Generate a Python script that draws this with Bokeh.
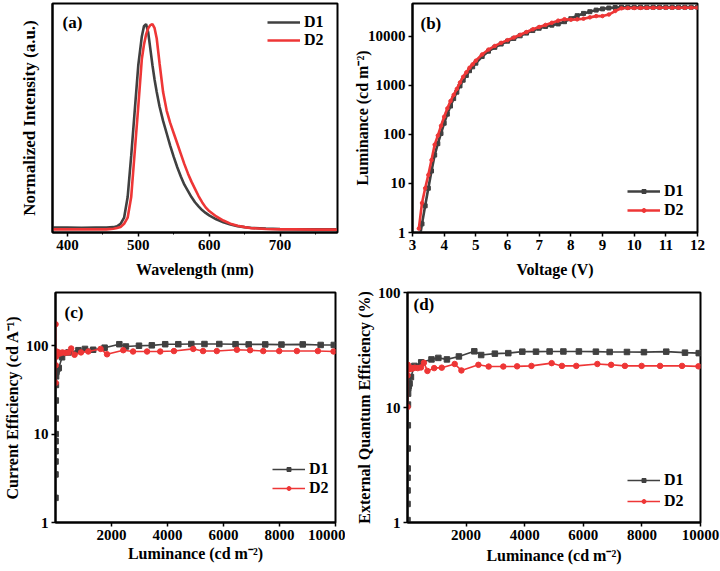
from bokeh.plotting import figure
from bokeh.models import (FixedTicker, Legend, LegendItem, Label, Range1d,
                          NumeralTickFormatter)
from bokeh.layouts import column, row
from bokeh.embed import file_html
from bokeh.resources import INLINE

FONT = "'Liberation Serif', 'Times New Roman', serif"
C1 = "#404040"
C2 = "#ee3636"

# ---------------- (a) EL spectra ----------------
wavelength = [380, 400, 420, 440, 455, 465, 470, 475, 480, 485, 490, 495, 500, 505,
              508, 511, 514, 517, 520, 523, 526, 530, 535, 540, 545, 550, 555, 560,
              565, 570, 575, 580, 585, 590, 595, 600, 610, 620, 630, 640, 650, 660,
              680, 700, 720, 750, 780]
el_d1 = [0.012, 0.012, 0.011, 0.012, 0.012, 0.014, 0.018, 0.03, 0.06, 0.16, 0.36, 0.58,
         0.80, 0.94, 0.99, 1.00, 0.96, 0.88, 0.80, 0.73, 0.67, 0.60, 0.53, 0.47, 0.41,
         0.355, 0.305, 0.26, 0.22, 0.19, 0.16, 0.135, 0.115, 0.097, 0.083, 0.071, 0.052,
         0.038, 0.027, 0.019, 0.014, 0.010, 0.007, 0.005, 0.004, 0.003, 0.003]
el_d2 = [0.003, 0.003, 0.003, 0.003, 0.003, 0.006, 0.010, 0.015, 0.03, 0.06, 0.16, 0.38,
         0.60, 0.83, 0.90, 0.95, 0.98, 0.995, 1.00, 0.98, 0.93, 0.81, 0.67, 0.58, 0.52,
         0.47, 0.42, 0.37, 0.32, 0.275, 0.235, 0.20, 0.165, 0.135, 0.11, 0.092, 0.066,
         0.046, 0.031, 0.021, 0.014, 0.009, 0.005, 0.003, 0.003, 0.002, 0.002]
wl_ticks = [400, 500, 600, 700]
wl_minor = [450, 550, 650, 750]

# ---------------- (b) L-V ----------------
voltage = [3.2, 3.3, 3.4, 3.5, 3.6, 3.7, 3.8, 3.9, 4.0, 4.1, 4.2, 4.3, 4.4, 4.5, 4.6,
           4.7, 4.8, 4.9, 5.0, 5.2, 5.4, 5.6, 5.8, 6.0, 6.2, 6.4, 6.6, 6.8, 7.0, 7.2,
           7.4, 7.6, 7.8, 8.0, 8.2, 8.4, 8.6, 8.8, 9.0, 9.2, 9.4, 9.6, 9.8, 10.0, 10.2,
           10.4, 10.6, 10.8, 11.0, 11.2, 11.4, 11.6, 11.8, 12.0]
lum_d1 = [0.6, 1.5, 3.5, 8, 18, 38, 65, 105, 170, 260, 380, 540, 730, 980, 1280, 1600,
          2000, 2400, 2850, 3900, 5000, 6000, 7000, 8000, 9100, 10300, 11700, 13200,
          14700, 16000, 17000, 18000, 20000, 23000, 26500, 29500, 32000, 34500, 36500,
          38000, 39000, 39500, 39500, 39500, 39500, 39500, 39500, 39500, 39500, 39500,
          39500, 39500, 39500, 39500]
lum_d2 = [1.2, 4.0, 8.0, 15, 30, 62, 95, 150, 230, 340, 480, 640, 850, 1150, 1500, 1850,
          2300, 2700, 3200, 4300, 5400, 6400, 7400, 8400, 9500, 10800, 12300, 14000,
          15600, 17200, 19000, 21000, 22500, 22000, 22300, 23000, 24500, 26000, 26000,
          28000, 33000, 37500, 38000, 38000, 38200, 38300, 38400, 38500, 38500, 38500,
          38600, 38600, 38600, 38600]
v_ticks = [3, 4, 5, 6, 7, 8, 9, 10, 11, 12]
lum_ticks = [1, 10, 100, 1000, 10000]

# ---------------- (c), (d) efficiencies ----------------
lum1 = [0.5, 1, 2, 3, 4, 6, 8, 11, 15, 20, 27, 36, 50, 70, 117, 234, 468, 819, 1053,
        1345, 1754, 2280, 2514, 2982, 3440, 3918, 4386, 4850, 5320, 5850, 6430, 6900,
        7490, 8070, 8830, 9470, 9940]
ce1 = [1.9, 3.5, 4.9, 6.4, 8.3, 10, 15, 24, 36, 45, 50, 52, 54, 55, 56, 74, 84, 89, 92,
       90, 95, 104, 98, 100, 101, 104, 104, 104.5, 104.5, 104.5, 104, 103.5, 103.5, 103,
       103.5, 102, 102]
eqe1 = [0.56, 1.05, 1.45, 1.9, 2.45, 2.95, 4.4, 7.0, 10.6, 13.2, 14.7, 15.3, 15.9, 16.2,
        18.4, 23.0, 24.7, 26.2, 27.0, 26.2, 27.8, 30.8, 28.6, 29.4, 29.7, 30.6, 30.6,
        30.7, 30.7, 30.7, 30.6, 30.4, 30.4, 30.3, 30.6, 30.0, 29.7]
lum2 = [2, 5, 10, 20, 40, 70, 110, 170, 250, 350, 460, 560, 680, 910, 1170, 1610, 1840,
        2420, 2770, 3270, 3740, 4230, 4920, 5270, 5760, 6480, 6950, 7420, 7990, 8620,
        9370, 9930]
ce2 = [175, 38, 60, 75, 86, 80, 84, 82, 84, 83, 84, 93, 79, 84, 86, 92, 80, 89, 86, 86,
       86, 87, 92, 87, 87, 90, 89, 87, 87, 87, 87, 86]
eqe2 = [10.1, 19, 23.5, 21.5, 22, 21.5, 22.2, 21.8, 22.2, 22, 22.3, 24.5, 20.8, 22, 22.2,
        23.9, 21, 23.5, 22.7, 22.7, 22.8, 23, 24.3, 23, 23, 23.9, 23.5, 23, 23, 23, 23,
        22.8]
l_ticks = [2000, 4000, 6000, 8000, 10000]
ce_ticks = [1, 10, 100]
eqe_ticks = [1, 10, 100]


def style(p):
    p.outline_line_color = "black"
    p.outline_line_width = 2
    p.outline_line_alpha = 1
    p.grid.visible = False
    p.background_fill_color = "white"
    p.border_fill_color = "white"
    for ax in p.axis:
        ax.axis_line_width = 2
        ax.axis_line_color = "black"
        ax.major_tick_out = 4
        ax.major_tick_in = 0
        ax.major_tick_line_width = 1.5
        ax.minor_tick_out = 2
        ax.minor_tick_in = 0
        ax.major_label_standoff = 3
        ax.major_label_text_font = FONT
        ax.major_label_text_font_style = "bold"
        ax.major_label_text_font_size = "15px"
        ax.major_label_text_color = "black"
        ax.axis_label_text_font = FONT
        ax.axis_label_text_font_style = "bold"
        ax.axis_label_text_font_size = "16px"
        ax.axis_label_text_color = "black"


def legend(p, items, loc, lh, gw=33):
    lg = Legend(items=items, location=loc, orientation="vertical",
                border_line_color=None, background_fill_alpha=0,
                padding=0, margin=0, spacing=0, label_height=lh, glyph_height=10,
                glyph_width=gw, label_standoff=4,
                label_text_font=FONT, label_text_font_style="bold",
                label_text_font_size="16px", label_text_color="black")
    p.add_layout(lg, "center")


def panel_label(p, text, x, y):
    p.add_layout(Label(x=x, y=y, x_units="screen", y_units="screen", text=text,
                       text_font=FONT, text_font_style="bold", text_font_size="17px",
                       text_baseline="middle", text_color="black"))


common = dict(output_backend="svg", toolbar_location=None)

# (a)
pa = figure(width=345, height=285, x_range=Range1d(379, 781), y_range=Range1d(-0.012, 1.1),
            min_border_left=52, min_border_right=8, min_border_top=3, min_border_bottom=53,
            **common)
la1 = pa.line(wavelength, el_d1, line_color=C1, line_width=2.6)
la2 = pa.line(wavelength, el_d2, line_color=C2, line_width=2.6)
style(pa)
pa.xaxis.ticker = FixedTicker(ticks=wl_ticks, minor_ticks=wl_minor)
pa.yaxis.ticker = FixedTicker(ticks=[])
pa.yaxis.major_tick_out = 0
pa.yaxis.axis_label_standoff = 14
pa.yaxis.axis_label_text_font_size = "17px"
pa.xaxis.axis_label_standoff = 8
pa.xaxis.axis_label = "Wavelength (nm)"
pa.yaxis.axis_label = "Normalized Intensity (a.u.)"
legend(pa, [LegendItem(label="D1", renderers=[la1]), LegendItem(label="D2", renderers=[la2])],
       (215, 183), 18)
panel_label(pa, "(a)", 10, 210)

# (b)
pb = figure(width=375, height=285, y_axis_type="log", x_range=Range1d(3, 12),
            y_range=Range1d(1, 47000),
            min_border_left=67, min_border_right=23, min_border_top=3, min_border_bottom=53,
            **common)
lb1 = pb.line(voltage, lum_d1, line_color=C1, line_width=2.6)
mb1 = pb.scatter(voltage, lum_d1, marker="square", size=4, color=C1)
lb2 = pb.line(voltage, lum_d2, line_color=C2, line_width=2.6)
mb2 = pb.scatter(voltage, lum_d2, marker="circle", size=3.5, color=C2)
style(pb)
pb.xaxis.ticker = FixedTicker(ticks=v_ticks, minor_ticks=[])
pb.yaxis.ticker = FixedTicker(ticks=lum_ticks, minor_ticks=[])
pb.yaxis.formatter = NumeralTickFormatter(format="0")
pb.xaxis.axis_label = "Voltage (V)"
pb.yaxis.axis_label = "Luminance (cd m\u207b\u00b2)"
pb.xaxis.axis_label_standoff = 8
pb.yaxis.axis_label_standoff = -6
legend(pb, [LegendItem(label="D1", renderers=[lb1, mb1]),
            LegendItem(label="D2", renderers=[lb2, mb2])], (215, 13), 19)
panel_label(pb, "(b)", 8, 209)

# (c)
pc = figure(width=345, height=286, y_axis_type="log", x_range=Range1d(0, 10000),
            y_range=Range1d(1, 400),
            min_border_left=50, min_border_right=10, min_border_top=7, min_border_bottom=49,
            **common)
lc1 = pc.line(lum1, ce1, line_color=C1, line_width=1.6)
mc1 = pc.scatter(lum1, ce1, marker="square", size=5.5, color=C1)
lc2 = pc.line(lum2, ce2, line_color=C2, line_width=1.6)
mc2 = pc.scatter(lum2, ce2, marker="circle", size=5.5, color=C2)
style(pc)
pc.xaxis.ticker = FixedTicker(ticks=l_ticks, minor_ticks=[])
pc.yaxis.ticker = FixedTicker(ticks=ce_ticks, minor_ticks=[])
pc.yaxis.formatter = NumeralTickFormatter(format="0")
pc.xaxis.formatter = NumeralTickFormatter(format="0")
pc.xaxis.axis_label = "Luminance (cd m\u207b\u00b2)"
pc.yaxis.axis_label = "Current Efficiency (cd A\u207b\u00b9)"
pc.xaxis.axis_label_standoff = 2
pc.yaxis.axis_label_standoff = 2
legend(pc, [LegendItem(label="D1", renderers=[lc1, mc1]),
            LegendItem(label="D2", renderers=[lc2, mc2])], (217, 25), 19)
panel_label(pc, "(c)", 9, 210)

# (d)
pd = figure(width=375, height=286, y_axis_type="log", x_range=Range1d(0, 10000),
            y_range=Range1d(1, 100),
            min_border_left=62, min_border_right=20, min_border_top=3, min_border_bottom=46,
            **common)
ld1 = pd.line(lum1, eqe1, line_color=C1, line_width=1.6)
md1 = pd.scatter(lum1, eqe1, marker="square", size=5.5, color=C1)
ld2 = pd.line(lum2, eqe2, line_color=C2, line_width=1.6)
md2 = pd.scatter(lum2, eqe2, marker="circle", size=5.5, color=C2)
style(pd)
pd.xaxis.ticker = FixedTicker(ticks=l_ticks, minor_ticks=[])
pd.yaxis.ticker = FixedTicker(ticks=eqe_ticks, minor_ticks=[])
pd.yaxis.formatter = NumeralTickFormatter(format="0")
pd.xaxis.formatter = NumeralTickFormatter(format="0")
pd.xaxis.axis_label = "Luminance (cd m\u207b\u00b2)"
pd.yaxis.axis_label = "External Quantum Efficiency (%)"
pd.xaxis.axis_label_standoff = 4
pd.yaxis.axis_label_standoff = 2
legend(pd, [LegendItem(label="D1", renderers=[ld1, md1]),
            LegendItem(label="D2", renderers=[ld2, md2])], (220, 11), 21)
panel_label(pd, "(d)", 6, 218)

layout = column(row(pa, pb), row(pc, pd))
open("out.html", "w").write(file_html(layout, INLINE))
